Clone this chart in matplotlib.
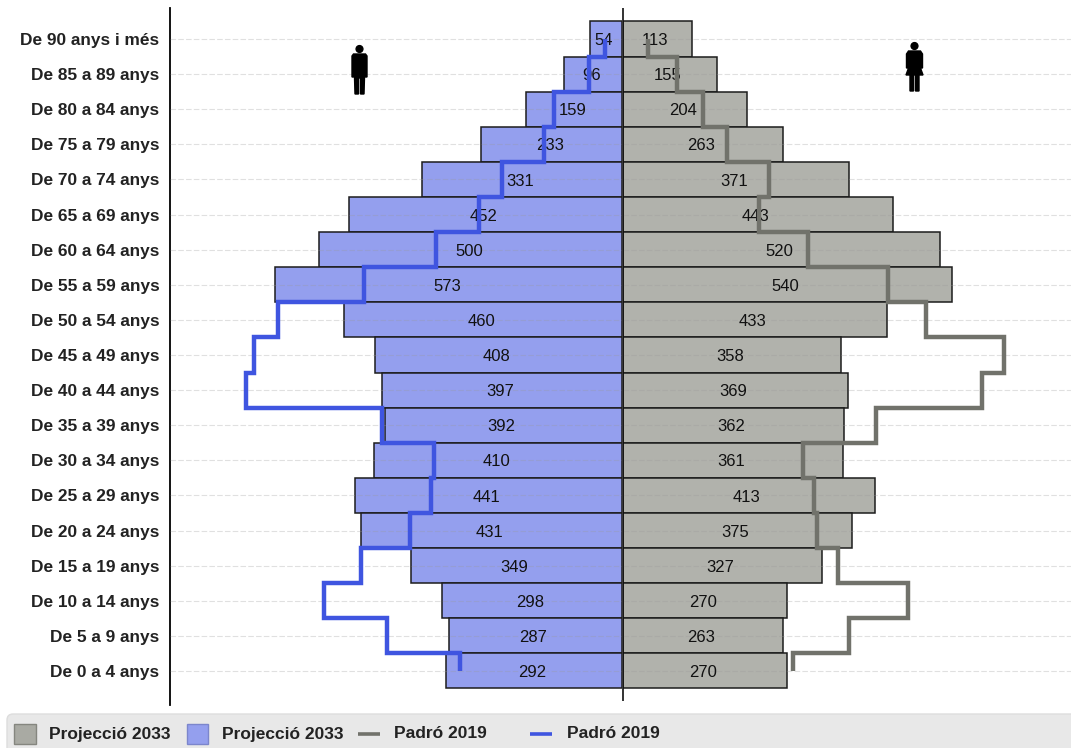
import numpy as np
import matplotlib
matplotlib.use("Agg")
import matplotlib.pyplot as plt
from matplotlib.patches import Rectangle, FancyBboxPatch, Circle, Polygon

plt.rcParams['font.family'] = ['Liberation Sans', 'DejaVu Sans']

GROUPS = ["De 90 anys i més", "De 85 a 89 anys", "De 80 a 84 anys", "De 75 a 79 anys",
          "De 70 a 74 anys", "De 65 a 69 anys", "De 60 a 64 anys", "De 55 a 59 anys",
          "De 50 a 54 anys", "De 45 a 49 anys", "De 40 a 44 anys", "De 35 a 39 anys",
          "De 30 a 34 anys", "De 25 a 29 anys", "De 20 a 24 anys", "De 15 a 19 anys",
          "De 10 a 14 anys", "De 5 a 9 anys", "De 0 a 4 anys"]
MEN_2033 = [54, 96, 159, 233, 331, 452, 500, 573, 460, 408, 397, 392, 410, 441, 431, 349, 298, 287, 292]
WOMEN_2033 = [113, 155, 204, 263, 371, 443, 520, 540, 433, 358, 369, 362, 361, 413, 375, 327, 270, 263, 270]
MEN_2019 = [29, 55, 113, 130, 199, 237, 308, 427, 569, 608, 621, 397, 311, 316, 351, 431, 493, 389, 268]
WOMEN_2019 = [42, 89, 132, 171, 240, 224, 304, 435, 497, 624, 588, 415, 296, 313, 318, 353, 467, 371, 279]

BLUE_BAR = "#949fee"
GRAY_BAR = "#b1b2ac"
BLUE_LINE = "#3f55e0"
GRAY_LINE = "#71726b"
W, H = 1071, 748


# -----------------------------
# one half of the pyramid
# -----------------------------
def draw_half(ax, bars, line, bar_color, line_color):
    y = np.arange(len(bars))
    ax.barh(y, bars, height=1.0, color=bar_color, edgecolor="#1c1c1c", linewidth=1.1, zorder=1)
    ax.grid(axis="y", color="#9a9a9a", alpha=0.3, linestyle=(0, (5, 2)), linewidth=0.8)
    ax.set_axisbelow(False)
    # vertical pyramid, so the step goes along y
    step_y = np.repeat(y[:-1] + 0.5, 2)
    step_y = np.concatenate([[0], step_y, [y[-1]]])
    ax.plot(np.repeat(line, 2), step_y, color=line_color, linewidth=3.2,
            solid_joinstyle="miter", solid_capstyle="butt", zorder=5)
    for i, v in enumerate(bars):
        ax.annotate(str(v), (v / 2, i), xytext=(-1.5, -1.2), textcoords="offset points",
                    ha="center", va="center", fontsize=12, color="#111111", zorder=3)
    ax.set_ylim(18.97, -0.883)
    for s in ax.spines.values():
        s.set_visible(False)
    ax.tick_params(length=0)
    ax.set_xticks([])


fig = plt.figure(figsize=(W / 100, H / 100), dpi=100)
left = fig.add_axes([170 / W, 1 - 705 / H, 452.5 / W, 697 / H])
right = fig.add_axes([622.5 / W, 1 - 705 / H, 448.5 / W, 697 / H])

draw_half(left, MEN_2033, MEN_2019, BLUE_BAR, BLUE_LINE)
draw_half(right, WOMEN_2033, WOMEN_2019, GRAY_BAR, GRAY_LINE)
left.set_xlim(452.5 / 0.606, 0)
right.set_xlim(0, 448.5 / 0.611)

left.set_yticks(np.arange(len(GROUPS)))
left.set_yticklabels(GROUPS, fontsize=12.4, fontweight="bold", color="#222222")
left.tick_params(axis="y", pad=7.5)
right.set_yticks(np.arange(len(GROUPS)))
right.tick_params(axis="y", labelleft=False)
left.spines["left"].set_visible(True)
left.spines["left"].set_linewidth(1.3)
right.vlines(0, -0.883, 18.85, color="#111111", linewidth=1.2, zorder=6, clip_on=False)

# overlay in pixel coordinates for the legend band and the icons
over = fig.add_axes([0, 0, 1, 1], facecolor="none")
over.set_xlim(0, W)
over.set_ylim(H, 0)
over.axis("off")

over.add_patch(FancyBboxPatch((10, 717), W + 20, 40, boxstyle="round,pad=3,rounding_size=6",
                              facecolor="#e8e8e8", edgecolor="#dddddd", linewidth=1))
over.add_patch(Rectangle((14, 724), 22, 20, facecolor="#a9aaa3", edgecolor="#85867f", linewidth=1))
over.add_patch(Rectangle((187, 724), 21, 20, facecolor=BLUE_BAR, edgecolor="#7c86cc", linewidth=1))
over.plot([358, 380], [734, 734], color=GRAY_LINE, linewidth=2.6, solid_capstyle="butt")
over.plot([530, 552], [734, 734], color=BLUE_LINE, linewidth=2.6, solid_capstyle="butt")
for x, label in [(49, "Projecció 2033"), (222, "Projecció 2033"), (394, "Padró 2019"), (567, "Padró 2019")]:
    over.text(x, 734, label, fontsize=12.5, fontweight="bold", va="center", ha="left", color="#222222")


# -----------------------------
# man and woman icons
# -----------------------------
def man(cx):
    over.add_patch(Circle((cx, 49), 3.4, color="black"))
    over.add_patch(Polygon([(cx - 6, 54), (cx + 6, 54), (cx + 7.5, 56), (cx + 7.5, 77), (cx + 5, 77), (cx + 4.5, 94),
                            (cx + 1, 94), (cx + 1, 78), (cx - 1, 78), (cx - 1, 94), (cx - 4.5, 94),
                            (cx - 5, 77), (cx - 7.5, 77), (cx - 7.5, 56)], color="black"))


def woman(cx):
    over.add_patch(Circle((cx, 46), 3.4, color="black"))
    over.add_patch(Polygon([(cx - 6, 51), (cx + 6, 51), (cx + 8, 54), (cx + 8, 68), (cx + 6, 68), (cx + 8.5, 75),
                            (cx + 4.5, 75), (cx + 4.5, 91), (cx + 1, 91), (cx + 1, 75), (cx - 1, 75),
                            (cx - 1, 91), (cx - 4.5, 91), (cx - 4.5, 75), (cx - 8.5, 75), (cx - 6, 68),
                            (cx - 8, 68), (cx - 8, 54)], color="black"))


man(359.5)
woman(914.5)

fig.savefig("out.png", dpi=100)
